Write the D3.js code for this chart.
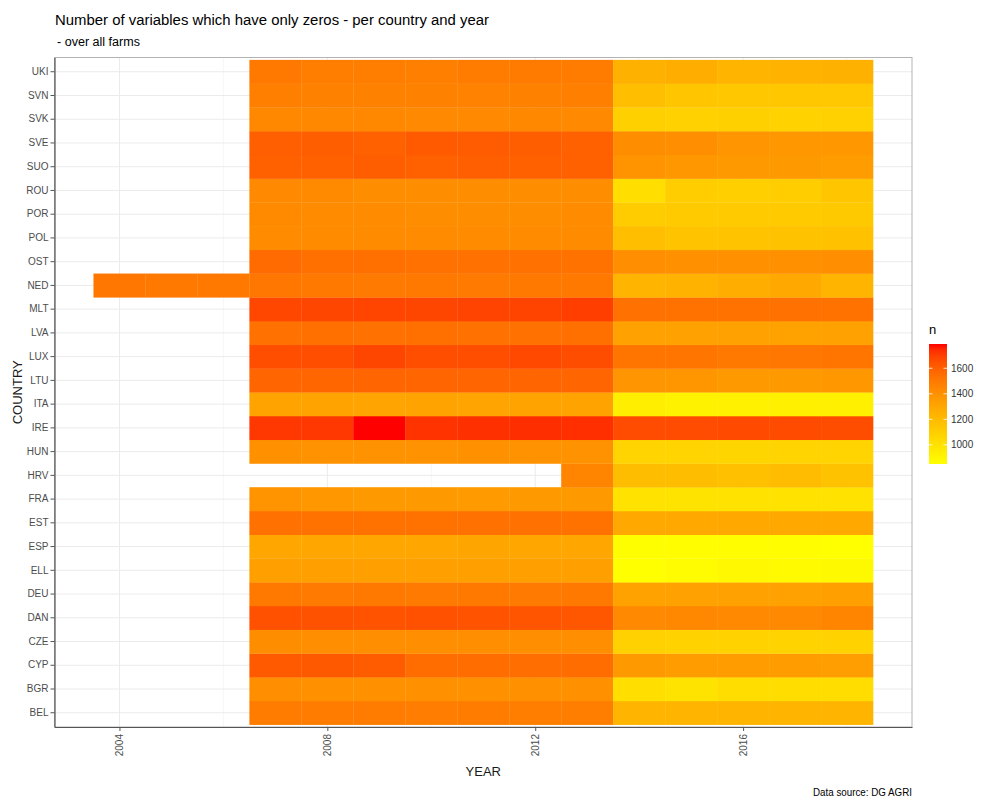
<!DOCTYPE html>
<html lang="en">
<head>
<meta charset="UTF-8">
<title>Number of variables which have only zeros</title>
<script src="https://d3js.org/d3.v7.min.js"></script>
<style>
  body { margin: 0; background: #fff; }
  text { font-family: "Liberation Sans", Arial, sans-serif; }
</style>
</head>
<body>
<svg width="981" height="800"></svg>
<script>
// years on the x axis
const years = [2004, 2005, 2006, 2007, 2008, 2009, 2010, 2011, 2012, 2013, 2014, 2015, 2016, 2017, 2018];
// countries, bottom to top
const countries = ["BEL", "BGR", "CYP", "CZE", "DAN", "DEU", "ELL", "ESP", "EST", "FRA", "HRV", "HUN", "IRE", "ITA",
  "LTU", "LUX", "LVA", "MLT", "NED", "OST", "POL", "POR", "ROU", "SUO", "SVE", "SVK", "SVN", "UKI"];
// n per country (same order as countries), one value per year, null = no data
const _ = null;
const nValues = [
  [_, _, _, 1490, 1488, 1490, 1485, 1488, 1480, 1482, 1228, 1230, 1232, 1230, 1228], // BEL
  [_, _, _, 1405, 1402, 1400, 1398, 1400, 1398, 1400, 1022, 995, 1025, 1028, 1025],  // BGR
  [_, _, _, 1620, 1625, 1615, 1555, 1552, 1548, 1550, 1360, 1345, 1342, 1344, 1340], // CYP
  [_, _, _, 1415, 1410, 1412, 1408, 1410, 1412, 1410, 1085, 1080, 1082, 1078, 1080], // CZE
  [_, _, _, 1650, 1648, 1645, 1650, 1645, 1640, 1630, 1435, 1440, 1432, 1436, 1455], // DAN
  [_, _, _, 1505, 1500, 1502, 1500, 1505, 1500, 1505, 1320, 1325, 1322, 1325, 1335], // DEU
  [_, _, _, 1335, 1332, 1330, 1332, 1335, 1333, 1330, 850, 870, 885, 875, 880],      // ELL
  [_, _, _, 1295, 1295, 1298, 1296, 1305, 1302, 1302, 855, 860, 862, 858, 852],      // ESP
  [_, _, _, 1535, 1532, 1530, 1532, 1535, 1535, 1532, 1290, 1288, 1290, 1285, 1290], // EST
  [_, _, _, 1385, 1365, 1360, 1360, 1358, 1362, 1360, 1000, 995, 998, 1000, 998],    // FRA
  [_, _, _, _, _, _, _, _, _, 1450, 1190, 1188, 1172, 1195, 1165],                   // HRV
  [_, _, _, 1400, 1395, 1395, 1392, 1396, 1394, 1392, 1070, 1072, 1068, 1070, 1072], // HUN
  [_, _, _, 1720, 1722, 1790, 1730, 1735, 1740, 1738, 1665, 1665, 1670, 1668, 1662], // IRE
  [_, _, _, 1315, 1312, 1310, 1312, 1310, 1312, 1315, 940, 920, 925, 930, 928],      // ITA
  [_, _, _, 1582, 1578, 1582, 1580, 1580, 1582, 1580, 1380, 1375, 1362, 1360, 1368], // LTU
  [_, _, _, 1658, 1660, 1682, 1658, 1660, 1676, 1662, 1518, 1520, 1505, 1515, 1518], // LUX
  [_, _, _, 1535, 1540, 1536, 1538, 1536, 1535, 1538, 1325, 1322, 1325, 1320, 1322], // LVA
  [_, _, _, 1680, 1682, 1685, 1683, 1690, 1688, 1705, 1535, 1532, 1530, 1535, 1532], // MLT
  [1510, 1508, 1505, 1510, 1505, 1500, 1505, 1500, 1502, 1505, 1230, 1235, 1262, 1285, 1232], // NED
  [_, _, _, 1560, 1540, 1538, 1535, 1535, 1535, 1532, 1408, 1404, 1400, 1402, 1405], // OST
  [_, _, _, 1425, 1424, 1422, 1420, 1420, 1422, 1424, 1185, 1158, 1160, 1162, 1168], // POL
  [_, _, _, 1428, 1426, 1425, 1415, 1414, 1418, 1420, 1115, 1118, 1120, 1122, 1130], // POR
  [_, _, _, 1432, 1428, 1418, 1414, 1414, 1415, 1416, 1020, 1110, 1100, 1108, 1145], // ROU
  [_, _, _, 1600, 1600, 1605, 1600, 1602, 1598, 1600, 1385, 1365, 1360, 1362, 1345], // SUO
  [_, _, _, 1602, 1605, 1600, 1620, 1618, 1605, 1595, 1415, 1408, 1380, 1372, 1365], // SVE
  [_, _, _, 1440, 1438, 1438, 1436, 1434, 1438, 1436, 1092, 1088, 1090, 1080, 1088], // SVK
  [_, _, _, 1478, 1470, 1470, 1468, 1466, 1470, 1475, 1180, 1145, 1140, 1140, 1135], // SVN
  [_, _, _, 1505, 1482, 1480, 1478, 1488, 1495, 1490, 1248, 1262, 1232, 1238, 1245]  // UKI
];
const xTicks = [2004, 2008, 2012, 2016];
const xMinorTicks = [2006, 2010, 2014, 2018];
const legendTicks = [1000, 1200, 1400, 1600];

// flatten to tiles
const tiles = [];
countries.forEach((c, i) => {
  years.forEach((y, j) => {
    if (nValues[i][j] != null) tiles.push({ country: c, year: y, n: nValues[i][j] });
  });
});

// panel box
const panel = { left: 54.5, right: 912, top: 57.5, bottom: 727 };

const svg = d3.select("svg");

// scales (ggplot-like expansion: 5% continuous, 0.6 units discrete)
const lo = years[0] - 0.5, hi = years[years.length - 1] + 0.5;
const pad = (hi - lo) * 0.05;
const xScale = d3.scaleLinear()
  .domain([lo - pad, hi + pad])
  .range([panel.left, panel.right]);

const yScale = d3.scaleBand()
  .domain(countries.slice().reverse())
  .range([panel.top, panel.bottom])
  .paddingInner(0)
  .paddingOuter(0.1);

const nExtent = d3.extent(tiles, d => d.n);
const color = d3.scaleLinear()
  .domain(nExtent)
  .range(["#FFFF00", "#FF0000"])
  .interpolate(d3.interpolateLab);

// grid
const grid = svg.append("g");
grid.selectAll(".minor")
  .data(xMinorTicks)
  .enter().append("line")
  .attr("x1", d => xScale(d)).attr("x2", d => xScale(d))
  .attr("y1", panel.top).attr("y2", panel.bottom)
  .attr("stroke", "#F2F2F2").attr("stroke-width", 0.6);
grid.selectAll(".major")
  .data(xTicks)
  .enter().append("line")
  .attr("x1", d => xScale(d)).attr("x2", d => xScale(d))
  .attr("y1", panel.top).attr("y2", panel.bottom)
  .attr("stroke", "#EBEBEB").attr("stroke-width", 1);
grid.selectAll(".hgrid")
  .data(countries)
  .enter().append("line")
  .attr("x1", panel.left).attr("x2", panel.right)
  .attr("y1", d => yScale(d) + yScale.bandwidth() / 2)
  .attr("y2", d => yScale(d) + yScale.bandwidth() / 2)
  .attr("stroke", "#EBEBEB").attr("stroke-width", 1);

// tiles
svg.append("g")
  .selectAll("rect")
  .data(tiles)
  .enter().append("rect")
  .attr("x", d => xScale(d.year - 0.5))
  .attr("y", d => yScale(d.country))
  .attr("width", d => xScale(d.year + 0.5) - xScale(d.year - 0.5) + 0.3)
  .attr("height", yScale.bandwidth() + 0.3)
  .attr("fill", d => color(d.n));

// panel border
svg.append("rect")
  .attr("x", panel.left).attr("y", panel.top)
  .attr("width", panel.right - panel.left).attr("height", panel.bottom - panel.top)
  .attr("fill", "none").attr("stroke", "#B3B3B3").attr("stroke-width", 1);

// axes
const yAxis = svg.append("g")
  .attr("transform", `translate(${panel.left},0)`)
  .call(d3.axisLeft(yScale).tickSize(4).tickSizeOuter(0).tickPadding(2));
const xAxis = svg.append("g")
  .attr("transform", `translate(0,${panel.bottom})`)
  .call(d3.axisBottom(xScale).tickValues(xTicks).tickFormat(d3.format("d")).tickSize(4).tickSizeOuter(0));

[yAxis, xAxis].forEach(ax => {
  ax.select(".domain").attr("stroke", "#555").attr("stroke-width", 1.2);
  ax.selectAll(".tick line").attr("stroke", "#555");
  ax.selectAll(".tick text")
    .attr("fill", "#4D4D4D")
    .style("font-size", "10px")
    .style("font-family", "'Liberation Sans', Arial, sans-serif");
});

xAxis.selectAll(".tick text")
  .attr("transform", "rotate(-90)")
  .attr("x", -7)
  .attr("y", 0)
  .attr("dy", "0.35em")
  .attr("text-anchor", "end");

// axis titles
svg.append("text")
  .attr("x", (panel.left + panel.right) / 2)
  .attr("y", 776)
  .attr("text-anchor", "middle")
  .style("font-size", "13px")
  .attr("fill", "#1A1A1A")
  .text("YEAR");

svg.append("text")
  .attr("transform", `translate(22,${(panel.top + panel.bottom) / 2}) rotate(-90)`)
  .attr("text-anchor", "middle")
  .style("font-size", "13px")
  .attr("fill", "#1A1A1A")
  .text("COUNTRY");

// title, subtitle, caption
svg.append("text")
  .attr("x", 55).attr("y", 25)
  .style("font-size", "15.5px")
  .attr("fill", "#000")
  .attr("textLength", 434).attr("lengthAdjust", "spacingAndGlyphs")
  .text("Number of variables which have only zeros - per country and year");

svg.append("text")
  .attr("x", 57).attr("y", 46)
  .style("font-size", "12px")
  .attr("fill", "#000")
  .attr("textLength", 83).attr("lengthAdjust", "spacingAndGlyphs")
  .text("- over all farms");

svg.append("text")
  .attr("x", 912).attr("y", 796)
  .attr("text-anchor", "end")
  .style("font-size", "10px")
  .attr("fill", "#000")
  .attr("textLength", 99).attr("lengthAdjust", "spacingAndGlyphs")
  .text("Data source: DG AGRI");

// legend
const legend = { x: 929, y0: 344, y1: 464, w: 18 };
const legendScale = d3.scaleLinear().domain(nExtent).range([legend.y1, legend.y0]);

const grad = svg.append("defs").append("linearGradient")
  .attr("id", "ngrad")
  .attr("x1", 0).attr("y1", 1).attr("x2", 0).attr("y2", 0);
d3.range(0, 1.0001, 0.05).forEach(t => {
  grad.append("stop")
    .attr("offset", t)
    .attr("stop-color", color(nExtent[0] + t * (nExtent[1] - nExtent[0])));
});

svg.append("text")
  .attr("x", legend.x).attr("y", 334)
  .style("font-size", "13px")
  .attr("fill", "#000")
  .text("n");

svg.append("rect")
  .attr("x", legend.x).attr("y", legend.y0)
  .attr("width", legend.w).attr("height", legend.y1 - legend.y0)
  .attr("fill", "url(#ngrad)");

const lt = svg.append("g").selectAll("g")
  .data(legendTicks)
  .enter().append("g");
lt.append("line")
  .attr("x1", legend.x).attr("x2", legend.x + 3.5)
  .attr("y1", d => legendScale(d)).attr("y2", d => legendScale(d))
  .attr("stroke", "#fff").attr("stroke-opacity", 0.8);
lt.append("line")
  .attr("x1", legend.x + legend.w - 3.5).attr("x2", legend.x + legend.w)
  .attr("y1", d => legendScale(d)).attr("y2", d => legendScale(d))
  .attr("stroke", "#fff").attr("stroke-opacity", 0.8);
lt.append("text")
  .attr("x", legend.x + legend.w + 4)
  .attr("y", d => legendScale(d))
  .attr("dy", "0.35em")
  .style("font-size", "10px")
  .attr("fill", "#333")
  .text(d => d);
</script>
</body>
</html>
